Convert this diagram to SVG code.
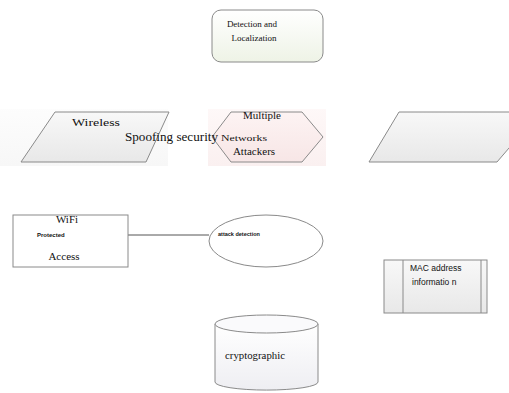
<svg xmlns="http://www.w3.org/2000/svg" width="509" height="393" viewBox="0 0 509 393">
<defs>
<linearGradient id="gGreen" x1="0" y1="0" x2="0" y2="1"><stop offset="0" stop-color="#ffffff"/><stop offset="1" stop-color="#eef3e6"/></linearGradient>
<linearGradient id="gGray" x1="0" y1="0" x2="0" y2="1"><stop offset="0" stop-color="#f8f8f8"/><stop offset="1" stop-color="#e8e8e8"/></linearGradient>
<linearGradient id="gPink" x1="0" y1="0" x2="0" y2="1"><stop offset="0" stop-color="#fdf3f3"/><stop offset="1" stop-color="#f7e6e6"/></linearGradient>
<linearGradient id="gCyl" x1="0" y1="0" x2="0" y2="1"><stop offset="0" stop-color="#ffffff"/><stop offset="1" stop-color="#eeeef2"/></linearGradient>
</defs>
<style>
.sh{stroke:#8a8a8a;stroke-width:1}
.serif{font-family:"Liberation Serif","Times New Roman",serif;fill:#111}
.sans{font-family:"Liberation Sans",Arial,sans-serif;fill:#111}
.conn{stroke:#555;stroke-width:1;fill:none}
</style>
<rect width="509" height="393" fill="#ffffff"/>
<g id="connectors">
<line class="conn" x1="128" y1="235" x2="209" y2="235"/>
</g>
<g id="detection">
<rect class="sh" x="212" y="10" width="111" height="52" rx="9" fill="url(#gGreen)"/>
<text class="serif" x="252" y="27" font-size="9" text-anchor="middle">Detection and</text>
<text class="serif" x="254" y="41" font-size="9" text-anchor="middle">Localization</text>
</g>
<g id="attackers">
<rect x="208" y="109" width="118" height="57" fill="url(#gPink)" opacity="0.6"/>
<polygon class="sh" points="231,112 302,112 323,137 302,162 231,162 212,137" fill="url(#gPink)"/>
<text class="serif" x="262" y="119" font-size="11" text-anchor="middle">Multiple</text>
<text class="serif" x="221" y="141" font-size="8" textLength="46" lengthAdjust="spacingAndGlyphs">Networks</text>
<text class="serif" x="254" y="155" font-size="11" text-anchor="middle">Attackers</text>
</g>
<g id="wireless">
<rect x="0" y="109" width="168" height="57" fill="url(#gGray)" opacity="0.35"/>
<polygon class="sh" points="55,112 169,112 146,162 21,162" fill="url(#gGray)"/>
<text class="serif" x="72" y="126" font-size="10" textLength="48" lengthAdjust="spacingAndGlyphs">Wireless</text>
<text class="serif" x="125" y="141" font-size="11.5" textLength="93" lengthAdjust="spacingAndGlyphs">Spoofing security</text>
</g>
<g id="right-parallelogram">
<polygon class="sh" points="399,112 540,112 497,162 369,162" fill="url(#gGray)"/>
</g>
<g id="wifi">
<rect class="sh" x="13" y="215" width="115" height="52" fill="#ffffff"/>
<text class="serif" x="67" y="223" font-size="11" text-anchor="middle">WiFi</text>
<text class="sans" x="37" y="237" font-size="6" font-weight="bold">Protected</text>
<text class="serif" x="64" y="260" font-size="11" text-anchor="middle">Access</text>
</g>
<g id="attack-detection">
<ellipse class="sh" cx="266" cy="241" rx="57" ry="26" fill="#ffffff"/>
<text class="sans" x="218" y="236" font-size="5.5" font-weight="bold">attack detection</text>
</g>
<g id="mac">
<rect class="sh" x="384" y="260" width="103" height="53" fill="url(#gGray)"/>
<line class="sh" x1="403" y1="260" x2="403" y2="313"/>
<line class="sh" x1="481" y1="260" x2="481" y2="313"/>
<text class="sans" x="410" y="271" font-size="8.5">MAC address</text>
<text class="sans" x="412" y="285" font-size="8.5">informatio n</text>
</g>
<g id="cryptographic">
<path class="sh" d="M215,324 L215,382 A51,8 0 0 0 318,382 L318,324" fill="url(#gCyl)"/>
<ellipse class="sh" cx="266.5" cy="324" rx="51.5" ry="9" fill="#fafafc"/>
<text class="serif" x="225" y="359" font-size="9.5" textLength="60" lengthAdjust="spacingAndGlyphs">cryptographic</text>
</g>
</svg>
